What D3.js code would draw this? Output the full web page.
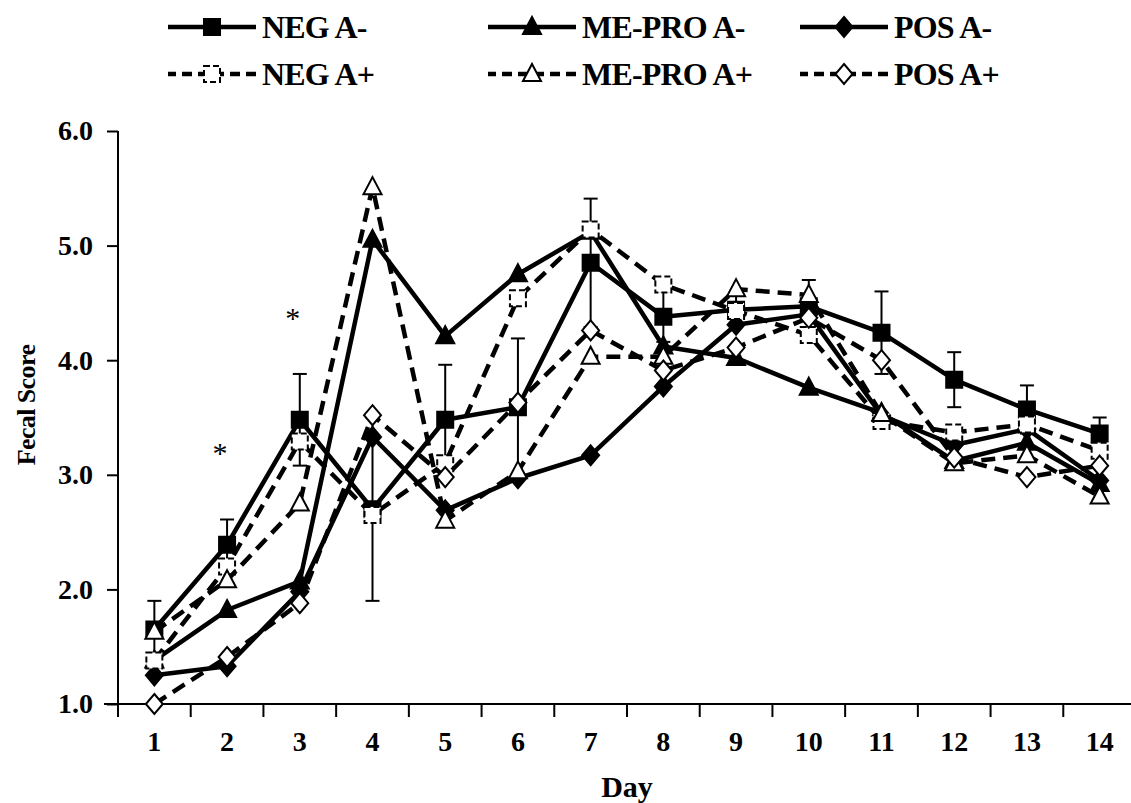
<!DOCTYPE html>
<html>
<head>
<meta charset="utf-8">
<script src="https://cdn.jsdelivr.net/npm/d3@7"></script>
<style>
  body { margin: 0; background: #fff; }
  text { font-family: "Liberation Serif", "Times New Roman", serif; }
</style>
</head>
<body>
<script>
// data
let days = [1,2,3,4,5,6,7,8,9,10,11,12,13,14];
let yTicks = [1,2,3,4,5,6];

let negAminus   = [1.65, 2.39, 3.48, 2.70, 3.48, 3.59, 4.85, 4.38, 4.44, 4.47, 4.24, 3.83, 3.57, 3.36];
let negAminusSE = [0.25, 0.22, 0.40, 0.80, 0.48, 0.60, 0.56, 0.22, 0.12, 0.23, 0.36, 0.24, 0.21, 0.14];
let meproAminus = [1.38, 1.82, 2.07, 5.05, 4.21, 4.75, 5.12, 4.12, 4.02, 3.76, 3.54, 3.12, 3.28, 2.92];
let posAminus   = [1.25, 1.33, 1.98, 3.33, 2.69, 2.97, 3.17, 3.77, 4.31, 4.40, 3.52, 3.26, 3.40, 2.95];
let negAplus    = [1.38, 2.20, 3.29, 2.65, 3.10, 4.54, 5.14, 4.66, 4.43, 4.22, 3.47, 3.37, 3.44, 3.21];
let meproAplus  = [1.63, 2.08, 2.75, 5.51, 2.60, 3.03, 4.03, 4.03, 4.62, 4.57, 3.53, 3.10, 3.17, 2.81];
let posAplus    = [1.00, 1.41, 1.88, 3.52, 2.98, 3.63, 4.26, 3.91, 4.11, 4.37, 4.00, 3.15, 2.98, 3.08];

// significance marks (day, score level)
let starDays = [2, 3];
let starVals = [3.23, 4.41];

let series = [
  {name: "NEG A-",    vals: negAminus,   err: negAminusSE, shape: "square",   open: false, dashed: false},
  {name: "ME-PRO A-", vals: meproAminus, err: null,        shape: "triangle", open: false, dashed: false},
  {name: "POS A-",    vals: posAminus,   err: null,        shape: "diamond",  open: false, dashed: false},
  {name: "NEG A+",    vals: negAplus,    err: null,        shape: "square",   open: true,  dashed: true},
  {name: "ME-PRO A+", vals: meproAplus,  err: null,        shape: "triangle", open: true,  dashed: true},
  {name: "POS A+",    vals: posAplus,    err: null,        shape: "diamond",  open: true,  dashed: true}
];

let w = 1131, h = 803;

let svg = d3.select("body").append("svg")
  .attr("width", w).attr("height", h);

let x = d3.scaleBand().domain(days).range([118, 1136]);
let y = d3.scaleLinear().domain([1, 6]).range([704, 131]);

function shapePath(shape) {
  if (shape === "square") return "M-8,-8H8V8H-8Z";
  if (shape === "triangle") return "M0,-10L9,7H-9Z";
  return "M0,-10L8.5,0L0,10L-8.5,0Z";
}

// axes
let yAxis = d3.axisLeft(y).tickValues(yTicks).tickSize(11).tickPadding(14)
  .tickFormat(d3.format(".1f"));
let gy = svg.append("g").attr("transform", "translate(118,0)").call(yAxis);
gy.select(".domain").attr("stroke-width", 2).attr("d", "M0,131V704");
gy.selectAll(".tick line").attr("stroke-width", 2);
gy.selectAll(".tick text").attr("font-size", 28).attr("font-weight", "bold")
  .attr("font-family", "Liberation Serif").attr("fill", "#000");

let xAxis = d3.axisBottom(x).tickSize(0).tickPadding(27);
let gx = svg.append("g").attr("transform", "translate(0,704)").call(xAxis);
gx.select(".domain").attr("stroke-width", 2).attr("d", "M104,0H1136");
gx.selectAll(".tick text").attr("font-size", 28).attr("font-weight", "bold")
  .attr("font-family", "Liberation Serif").attr("fill", "#000");
gx.selectAll(".sep").data(days).enter().append("line")
  .attr("x1", d => x(d)).attr("x2", d => x(d))
  .attr("y1", 0).attr("y2", 13)
  .attr("stroke", "#000").attr("stroke-width", 2);

svg.append("text").attr("x", 627).attr("y", 797)
  .attr("text-anchor", "middle").attr("font-size", 30).attr("font-weight", "bold")
  .text("Day");

svg.append("text")
  .attr("transform", "translate(35,405) rotate(-90)")
  .attr("text-anchor", "middle").attr("font-size", 26).attr("font-weight", "bold")
  .attr("letter-spacing", -0.6)
  .text("Fecal Score");

let cx = d => x(d) + x.bandwidth() / 2;

let line = d3.line()
  .x((v, i) => cx(days[i]))
  .y(v => y(v));

let plot = svg.append("g");

series.forEach(s => {
  let g = plot.append("g");
  if (s.err) {
    let eg = g.selectAll(".err").data(s.vals).enter().append("g");
    eg.append("line")
      .attr("x1", (v, i) => cx(days[i])).attr("x2", (v, i) => cx(days[i]))
      .attr("y1", (v, i) => y(v - s.err[i])).attr("y2", (v, i) => y(v + s.err[i]))
      .attr("stroke", "#000").attr("stroke-width", 2);
    [-1, 1].forEach(sign => {
      eg.append("line")
        .attr("x1", (v, i) => cx(days[i]) - 7).attr("x2", (v, i) => cx(days[i]) + 7)
        .attr("y1", (v, i) => y(v + sign * s.err[i])).attr("y2", (v, i) => y(v + sign * s.err[i]))
        .attr("stroke", "#000").attr("stroke-width", 2);
    });
  }
  g.append("path").datum(s.vals)
    .attr("d", line)
    .attr("fill", "none").attr("stroke", "#000").attr("stroke-width", 4.5)
    .attr("stroke-linejoin", "round")
    .attr("stroke-dasharray", s.dashed ? "14,8" : null);
  g.selectAll(".mk").data(s.vals).enter().append("path")
    .attr("transform", (v, i) => "translate(" + cx(days[i]) + "," + y(v) + ")")
    .attr("d", shapePath(s.shape))
    .attr("fill", s.open ? "#fff" : "#000")
    .attr("stroke", "#000").attr("stroke-width", 2)
    .attr("stroke-dasharray", s.open && s.shape === "square" ? "6,3" : null);
});

// asterisks
svg.selectAll(".star").data(starDays).enter().append("text")
  .attr("x", d => cx(d) - 7)
  .attr("y", (d, i) => y(starVals[i]) + 15)
  .attr("text-anchor", "middle").attr("font-size", 30)
  .text("*");

// legend
let legX = [168, 488, 800];
let legY = [27, 74];
series.forEach((s, i) => {
  let lx = legX[i % 3], ly = legY[Math.floor(i / 3)];
  let g = svg.append("g").attr("transform", "translate(" + lx + "," + ly + ")");
  g.append("line").attr("x1", 0).attr("x2", 88).attr("y1", 0).attr("y2", 0)
    .attr("stroke", "#000").attr("stroke-width", 4.5)
    .attr("stroke-dasharray", s.dashed ? "10,6" : null)
    .attr("stroke-dashoffset", s.dashed ? 2 : null);
  g.append("path").attr("transform", "translate(44,0)")
    .attr("d", shapePath(s.shape))
    .attr("fill", s.open ? "#fff" : "#000")
    .attr("stroke", "#000").attr("stroke-width", 2)
    .attr("stroke-dasharray", s.open && s.shape === "square" ? "6,3" : null);
  g.append("text").attr("x", 94).attr("y", 11)
    .attr("font-size", 32).attr("font-weight", "bold")
    .attr("letter-spacing", -0.8)
    .text(s.name);
});
</script>
</body>
</html>
